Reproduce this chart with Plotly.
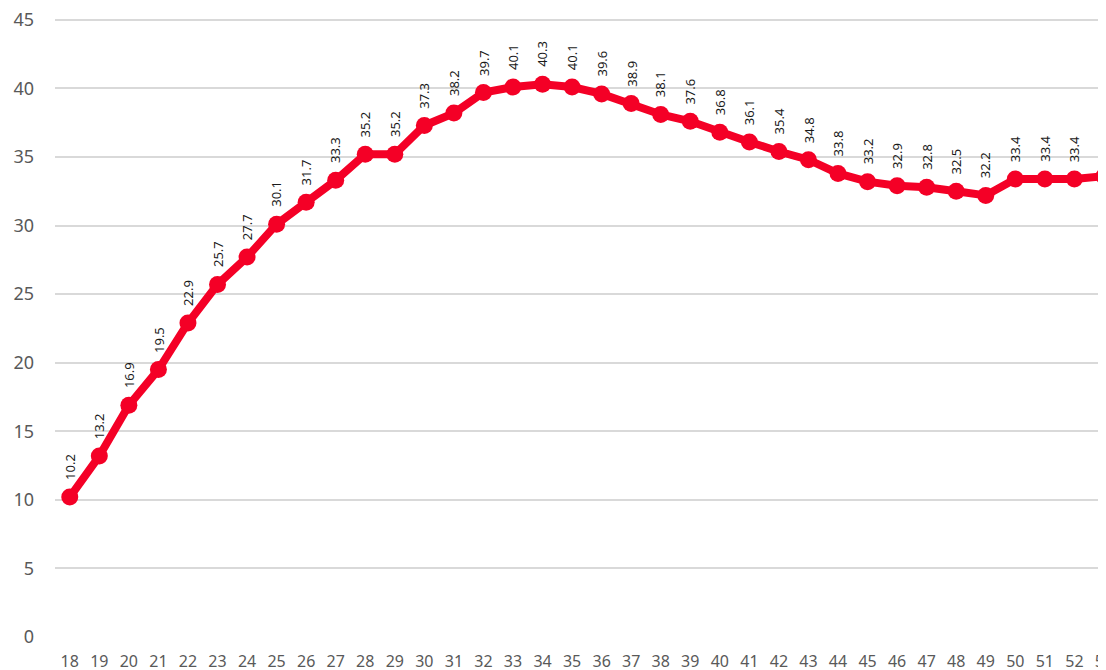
import plotly.graph_objects as go

weeks = [str(w) for w in range(18, 54)]
values = [10.2, 13.2, 16.9, 19.5, 22.9, 25.7, 27.7, 30.1, 31.7, 33.3,
          35.2, 35.2, 37.3, 38.2, 39.7, 40.1, 40.3, 40.1, 39.6, 38.9,
          38.1, 37.6, 36.8, 36.1, 35.4, 34.8, 33.8, 33.2, 32.9, 32.8,
          32.5, 32.2, 33.4, 33.4, 33.4, 33.6]
y_ticks = [0, 5, 10, 15, 20, 25, 30, 35, 40, 45]

red = "rgb(244,0,38)"

fig = go.Figure()
fig.add_trace(go.Scatter(
    x=weeks, y=values,
    mode="lines+markers",
    line=dict(color=red, width=8),
    marker=dict(color=red, size=17),
    cliponaxis=False,
    hoverinfo="x+y",
))

# rotated value labels above each point (x given as category index)
annotations = []
for i, v in enumerate(values):
    annotations.append(dict(
        x=i, y=v, text=f"{v:.1f}",
        textangle=-90, showarrow=False,
        xanchor="center", yanchor="bottom", yshift=15,
        font=dict(family="Noto Sans, Arial", size=13, color="#1a1a1a"),
    ))

fig.update_layout(
    width=1106, height=670,
    margin=dict(l=47, r=0, t=5, b=41),
    paper_bgcolor="white", plot_bgcolor="white",
    showlegend=False,
    annotations=annotations,
    font=dict(family="Noto Sans, Arial", color="#595959"),
)
fig.update_xaxes(
    type="category",
    range=[-0.5, 35.34],
    showgrid=False, showline=False, zeroline=False,
    ticks="", tickfont=dict(size=16, color="#595959"),
    ticklabelstandoff=13,
    ticklabeloverflow="allow",
)
fig.update_yaxes(
    range=[0, 45.5],
    tickvals=y_ticks,
    showgrid=True, gridcolor="#d9d9d9", gridwidth=1.5,
    zeroline=False, showline=False,
    ticks="", tickfont=dict(size=18, color="#595959"),
    ticklabelstandoff=20,
    ticklabeloverflow="allow",
)

fig.write_html("out.html")
